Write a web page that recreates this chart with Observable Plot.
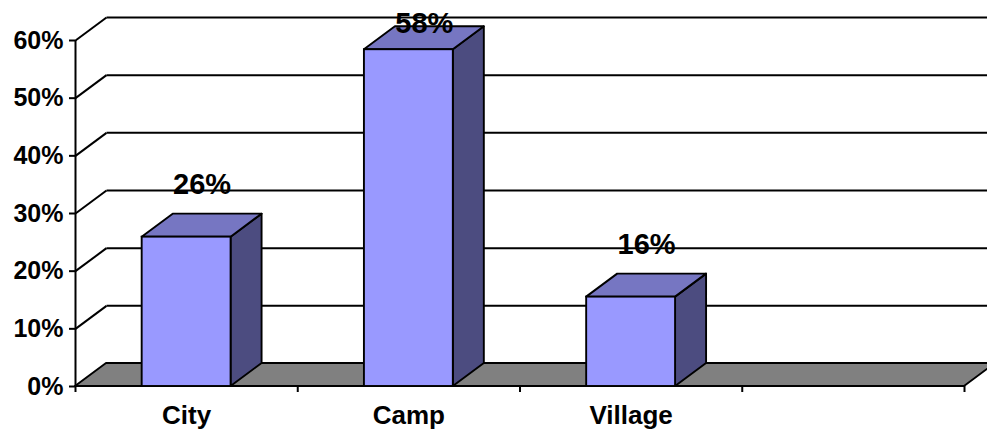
<!DOCTYPE html>
<html><head><meta charset="utf-8">
<script src="https://cdn.jsdelivr.net/npm/d3@7"></script>
<script src="https://cdn.jsdelivr.net/npm/@observablehq/plot@0.6"></script>
<style>body{margin:0;background:#fff} svg{display:block}</style>
</head><body><div id="chart"></div>
<script>
// ---- data ----
const categories = ["City", "Camp", "Village", ""];   // 4 category slots, last one empty
const values = [25.9, 58.4, 15.5];                     // percent
const valueLabels = ["26%", "58%", "16%"];
const yTicks = [0, 10, 20, 30, 40, 50, 60];
const yTickLabels = ["0%", "10%", "20%", "30%", "40%", "50%", "60%"];

// ---- layout / style ----
const W = 987, H = 432;
const mL = 75, mR = 23, mT = 40, mB = 46;
const yMax = 60;
const nSlots = categories.length;
const pxPerX = (W - mL - mR) / nSlots;
const pxPerY = (H - mT - mB) / yMax;
const depthXpx = 31, depthYpx = 23;          // oblique 3D depth in pixels
const dX = depthXpx / pxPerX, dY = depthYpx / pxPerY;
const barW = 0.4;
const labelGap = 20;                          // px above bar back top
const labelMaxBackTopPx = 52;                 // keep labels inside chart
const yFromPx = px => (H - mB - px) / pxPerY;
const FRONT = "#9999FF", TOP = "#7676C2", SIDE = "#4C4C80", FLOOR = "#808080";
const SW = 1.9;

const bars = values.map((v, i) => ({
  cat: categories[i], v, label: valueLabels[i],
  xl: i + 0.5 - barW / 2, xr: i + 0.5 + barW / 2, xc: i + 0.5, base: 0
}));

const sideFaces = bars.flatMap(b => [
  {cat: b.cat, x: b.xr, y1: 0, y2: b.v},
  {cat: b.cat, x: b.xr + dX, y1: dY, y2: b.v + dY}
]);
const topFaces = bars.flatMap(b => [
  {cat: b.cat, y: b.v, x1: b.xl, x2: b.xr},
  {cat: b.cat, y: b.v + dY, x1: b.xl + dX, x2: b.xr + dX}
]);
const floor = [
  {y: 0, x1: 0, x2: nSlots},
  {y: dY, x1: dX, x2: nSlots + dX}
];
const grid = yTicks.filter(t => t > 0).map(t => ({
  fx: 0, fy: t, bx: dX, by: t + dY, ex: nSlots + dX
}));
const axisLine = [{x: 0, y1: 0, y2: yMax}];
const catLabels = categories.map((c, i) => ({c, x: i + 0.5, y: 0})).filter(d => d.c);

const chart = Plot.plot({
  width: W, height: H,
  marginLeft: mL, marginRight: mR, marginTop: mT, marginBottom: mB,
  x: {type: "linear", domain: [0, nSlots], axis: null},
  y: {domain: [0, yMax], axis: null},
  style: {fontFamily: "'Liberation Sans', Arial, sans-serif", color: "black", background: "white"},
  marks: [
    // floor
    Plot.areaX(floor, {y: "y", x1: "x1", x2: "x2", fill: FLOOR, stroke: "black", strokeWidth: SW}),
    // back wall gridlines: diagonal + horizontal
    Plot.link(grid, {x1: "fx", y1: "fy", x2: "bx", y2: "by", stroke: "black", strokeWidth: 2}),
    Plot.link(grid, {x1: "bx", y1: "by", x2: "ex", y2: "by", stroke: "black", strokeWidth: 2}),
    // y axis line
    Plot.ruleX(axisLine, {x: "x", y1: "y1", y2: "y2", stroke: "black", strokeWidth: 2}),
    Plot.axisY(yTicks, {
      tickSize: 6, tickPadding: 6, tickFormat: d => yTickLabels[yTicks.indexOf(d)],
      fontSize: 25, fontWeight: "bold", label: null, strokeWidth: 2
    }),
    // x axis ticks at slot boundaries
    Plot.axisX(d3.range(nSlots + 1), {tickSize: 6, tickFormat: () => "", label: null, strokeWidth: 2}),
    // bars: side, top, front
    Plot.areaY(sideFaces, {x: "x", y1: "y1", y2: "y2", z: "cat", fill: SIDE, stroke: "black", strokeWidth: SW, strokeLinejoin: "round"}),
    Plot.areaX(topFaces, {y: "y", x1: "x1", x2: "x2", z: "cat", fill: TOP, stroke: "black", strokeWidth: SW, strokeLinejoin: "round"}),
    Plot.rect(bars, {x1: "xl", x2: "xr", y1: "base", y2: "v", fill: FRONT, stroke: "black", strokeWidth: SW}),
    // value labels
    Plot.text(bars, {
      x: d => d.xc + dX / 2,
      y: d => Math.min(d.v + dY, yFromPx(labelMaxBackTopPx)),
      text: "label", dy: -labelGap, lineAnchor: "bottom",
      fontSize: 29, fontWeight: "bold", fill: "black"
    }),
    // category labels
    Plot.text(catLabels, {
      x: "x", y: "y", text: "c", dy: 37, lineAnchor: "bottom",
      fontSize: 26, fontWeight: "bold", fill: "black"
    })
  ]
});
document.getElementById("chart").append(chart);
</script>
</body></html>
